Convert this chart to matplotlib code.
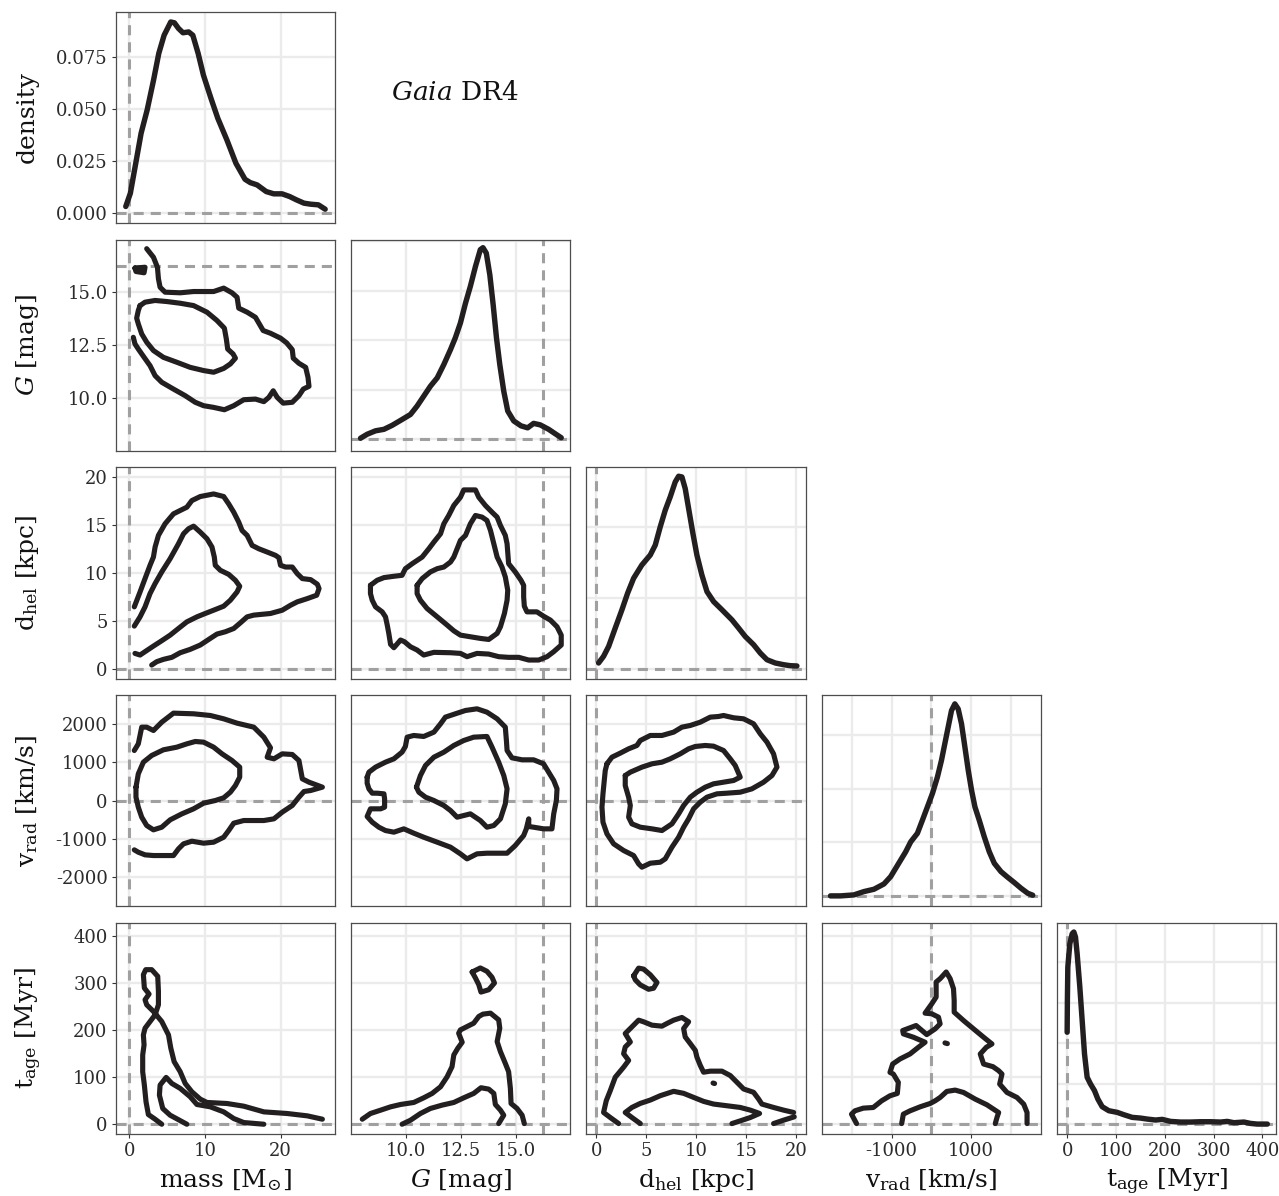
import matplotlib
matplotlib.use('Agg')
import matplotlib.pyplot as plt

plt.rcParams['font.family'] = ['DejaVu Serif', 'DejaVu Sans']
plt.rcParams['mathtext.fontset'] = 'dejavuserif'
plt.rcParams['axes.unicode_minus'] = False

# ---------------- data ----------------
# axis limits
mass_lim = (-1.8, 27.2)
G_lim = (7.52, 17.44)
d_lim = (-1.0, 20.97)
v_lim = (-2760, 2750)
t_lim = (-21, 428.5)

# ticks / grid
mass_ticks = [0, 10, 20]
mass_ticklabels = ['0', '10', '20']
G_ticks = [10.0, 12.5, 15.0]
G_ticklabels = ['10.0', '12.5', '15.0']
d_ticks = [0, 5, 10, 15, 20]
d_ticklabels = ['0', '5', '10', '15', '20']
v_ticks = [-2000, -1000, 0, 1000, 2000]
v_ticklabels = ['-2000', '-1000', '0', '1000', '2000']
v_xticks = [-1000, 1000]
v_xticklabels = ['-1000', '1000']
t_ticks = [0, 100, 200, 300, 400]
t_ticklabels = ['0', '100', '200', '300', '400']

# true values (dashed lines)
mass_true = 0.0
G_true = 16.2
d_true = 0.0
v_true = 0.0
t_true = 0.0

# density panel scales
mass_dens_lim = (-0.0048, 0.0970)
mass_dens_ticks = [0.0, 0.025, 0.050, 0.075]
mass_dens_ticklabels = ['0.000', '0.025', '0.050', '0.075']
G_dens_lim = (-0.0235, 0.4034)
G_dens_grid = [0.0, 0.1, 0.2, 0.3, 0.4]
d_dens_lim = (-0.0070, 0.1419)
d_dens_grid = [0.0, 0.05, 0.10]
v_dens_lim = (-0.0000391, 0.000751)
v_dens_grid = [0.0, 0.0002, 0.0004, 0.0006]
t_dens_lim = (-0.00124, 0.0249)
t_dens_grid = [0.0, 0.005, 0.010, 0.015, 0.020]

# 1D densities
mass_dens_x = [-0.47, 0.14, 0.85, 1.56, 2.36, 3.2, 3.9, 4.6, 5.48, 5.96, 6.5, 7.1, 7.85, 8.4,
               9.1, 9.8, 10.8, 11.7, 12.9, 14.1, 15.3, 16.0, 16.9, 18.1, 19.1, 20.2, 21.2,
               22.1, 23.1, 24.0, 25.0, 25.9]
mass_dens_y = [0.0032, 0.0096, 0.024, 0.0385, 0.0497, 0.064, 0.077, 0.0857, 0.0921, 0.0917,
               0.089, 0.0869, 0.0873, 0.0857, 0.077, 0.0665, 0.0553, 0.0457, 0.0353, 0.024,
               0.0163, 0.0147, 0.0136, 0.0104, 0.0093, 0.0093, 0.008, 0.0064, 0.0048, 0.0043,
               0.004, 0.0019]

G_dens_x = [7.95, 8.25, 8.63, 9.01, 9.38, 9.76, 10.21, 10.51, 10.81, 11.11, 11.42, 11.72, 12.02,
            12.24, 12.47, 12.70, 12.92, 13.15, 13.37, 13.49, 13.64, 13.80, 13.95, 14.10, 14.25,
            14.43, 14.61, 14.88, 15.21, 15.51, 15.78, 16.08, 16.46, 16.76, 17.03]
G_dens_y = [0.002, 0.010, 0.017, 0.020, 0.028, 0.038, 0.050, 0.067, 0.087, 0.107, 0.124, 0.151,
            0.181, 0.205, 0.235, 0.275, 0.309, 0.349, 0.383, 0.387, 0.376, 0.332, 0.272, 0.205,
            0.151, 0.097, 0.057, 0.037, 0.027, 0.023, 0.032, 0.029, 0.020, 0.011, 0.003]

d_dens_x = [0.23, 0.73, 1.24, 1.90, 2.57, 3.14, 3.74, 4.57, 5.41, 5.91, 6.41, 6.91, 7.41, 7.91,
            8.25, 8.58, 8.91, 9.25, 9.68, 10.08, 10.58, 11.09, 11.75, 12.59, 13.59, 14.26,
            14.92, 15.76, 16.43, 17.10, 17.93, 18.76, 19.43, 20.10]
d_dens_y = [0.0040, 0.0087, 0.0157, 0.0286, 0.0415, 0.0532, 0.0637, 0.0731, 0.0801, 0.0871,
            0.1000, 0.1117, 0.1211, 0.1316, 0.1356, 0.1351, 0.1269, 0.1129, 0.0953, 0.0801,
            0.0660, 0.0543, 0.0473, 0.0415, 0.0344, 0.0286, 0.0227, 0.0169, 0.0110, 0.0063,
            0.0040, 0.0028, 0.0021, 0.0019]

v_dens_x = [-2537, -2285, -1949, -1697, -1445, -1193, -1025, -899, -773, -647, -521, -353, -227,
            -101, 25, 151, 252, 336, 420, 504, 588, 672, 756, 840, 924, 1008, 1092, 1201, 1327,
            1453, 1579, 1747, 1915, 2083, 2251, 2419, 2545]
v_dens_y = [0.0, 0.0, 0.0000037, 0.0000161, 0.0000248, 0.0000447, 0.0000720, 0.000103, 0.000134,
            0.000165, 0.000202, 0.000234, 0.000283, 0.000333, 0.000383, 0.000445, 0.000507,
            0.000569, 0.000631, 0.000693, 0.000718, 0.000699, 0.000643, 0.000557, 0.000470,
            0.000395, 0.000333, 0.000283, 0.000221, 0.000165, 0.000122, 0.0000907, 0.0000696,
            0.0000497, 0.0000286, 0.0000099, 0.0000025]

t_dens_x = [0.0, 0.5, 1.4, 5.5, 10.3, 13.7, 17.1, 20.5, 26.0, 30.8, 35.6, 41.0, 47.9, 56.1, 62.9,
            71.8, 85.5, 102.6, 116.2, 133.3, 150.4, 164.1, 181.2, 194.9, 212.0, 232.5, 253.0,
            273.5, 294.0, 314.5, 328.2, 341.9, 362.4, 376.1, 389.7, 410.3]
t_dens_y = [0.01136, 0.01529, 0.01942, 0.02231, 0.02355, 0.02376, 0.02314, 0.02107, 0.01694,
            0.01281, 0.00868, 0.00579, 0.00496, 0.00413, 0.00310, 0.00215, 0.00165, 0.00145,
            0.00116, 0.00083, 0.00074, 0.00062, 0.00050, 0.00058, 0.00033, 0.00025, 0.00025,
            0.00029, 0.00029, 0.00025, 0.00033, 0.00017, 0.00025, 0.00008, 0.0, 0.0]

# 2D contours (x, y) in data units
mass_G_outer = [(2.30, 17.01), (3.19, 16.61), (3.72, 16.14), (3.85, 15.60), (4.07, 15.20),
                (4.73, 14.97), (6.73, 14.94), (8.50, 15.0), (11.15, 15.0), (12.48, 15.16),
                (13.58, 14.94), (14.25, 14.73), (14.47, 14.22), (15.58, 14.03), (16.68, 13.79),
                (17.70, 13.17), (18.67, 13.04), (20.0, 12.81), (20.80, 12.59), (21.55, 12.27),
                (21.68, 11.87), (22.43, 11.63), (23.32, 11.44), (23.63, 10.97), (23.76, 10.55),
                (23.01, 10.42), (22.43, 10.11), (21.55, 9.80), (20.35, 9.76), (19.56, 10.03),
                (19.03, 10.34), (18.45, 10.03), (17.79, 9.83), (16.68, 9.95), (15.13, 9.92),
                (13.81, 9.64), (12.57, 9.45), (11.15, 9.56), (9.82, 9.64), (8.72, 9.80),
                (7.39, 10.11), (5.84, 10.42), (4.29, 10.74), (3.41, 11.05), (2.74, 11.52),
                (1.86, 11.96), (1.19, 12.30), (0.75, 12.54), (0.53, 12.85)]
mass_G_inner = [(1.42, 14.34), (2.08, 14.50), (3.41, 14.58), (4.96, 14.53), (6.73, 14.45),
                (8.50, 14.34), (10.27, 14.03), (11.59, 13.64), (12.57, 13.28), (12.83, 12.77),
                (13.01, 12.30), (13.72, 12.07), (14.03, 11.87), (13.36, 11.60), (12.48, 11.39),
                (11.15, 11.21), (9.82, 11.29), (8.05, 11.44), (6.28, 11.68), (4.51, 11.91),
                (3.19, 12.23), (2.30, 12.62), (1.64, 13.01), (1.19, 13.48), (0.97, 13.75),
                (1.19, 14.11)]
mass_G_blob = [(0.75, 16.10), (2.08, 16.14), (1.95, 15.88), (0.88, 15.94)]

mass_d_outer = [(0.66, 6.46), (1.42, 8.01), (2.08, 9.40), (2.74, 10.78), (3.19, 11.64),
                (3.41, 12.68), (3.85, 13.89), (4.73, 15.10), (5.84, 16.13), (6.73, 16.48),
                (7.61, 16.82), (8.27, 17.51), (9.38, 17.93), (11.15, 18.20), (12.48, 17.93),
                (13.14, 17.17), (13.81, 16.30), (14.47, 15.27), (14.91, 14.40), (15.58, 13.89),
                (16.24, 12.85), (17.12, 12.50), (18.23, 12.16), (19.34, 11.81), (19.78, 11.57),
                (20.0, 10.78), (20.66, 10.60), (21.55, 10.60), (22.21, 9.91), (22.88, 9.40),
                (23.98, 9.29), (24.87, 8.81), (25.09, 8.36), (24.78, 7.67), (23.54, 7.32),
                (22.21, 6.98), (21.33, 6.63), (20.22, 6.11), (18.67, 5.77), (16.46, 5.60),
                (15.58, 5.42), (14.69, 4.80), (13.81, 4.21), (12.70, 3.87), (11.59, 3.63),
                (10.71, 3.18), (9.38, 2.49), (8.05, 2.04), (6.73, 1.69), (5.62, 1.21),
                (4.51, 1.00), (3.63, 0.76), (2.96, 0.41)]
mass_d_inner = [(0.66, 4.46), (1.42, 5.42), (2.08, 6.46), (2.74, 7.84), (3.41, 8.88),
                (4.29, 10.09), (5.40, 11.47), (6.50, 13.02), (7.17, 14.06), (7.83, 14.58),
                (8.50, 14.85), (9.38, 14.23), (10.27, 13.54), (10.93, 12.68), (11.24, 11.64),
                (11.37, 10.78), (12.04, 10.26), (13.14, 9.84), (14.03, 9.22), (14.60, 8.60),
                (14.25, 8.01), (13.36, 7.15), (12.48, 6.53), (11.37, 6.18), (10.04, 5.77),
                (8.94, 5.42), (7.61, 4.90), (6.50, 4.21), (5.40, 3.52), (4.29, 2.94),
                (3.19, 2.38), (2.08, 1.80), (1.42, 1.45), (0.75, 1.62)]

G_d_outer = [(8.40, 8.70), (8.70, 9.22), (9.01, 9.50), (9.46, 9.64), (9.83, 9.74), (9.98, 10.43),
             (10.29, 10.95), (10.74, 11.64), (11.04, 12.50), (11.27, 13.20), (11.57, 14.06),
             (11.72, 15.10), (11.94, 15.96), (12.17, 17.00), (12.47, 17.86), (12.62, 18.62),
             (13.15, 18.62), (13.30, 17.86), (13.60, 17.00), (13.90, 16.30), (14.13, 15.79),
             (14.28, 14.92), (14.50, 13.89), (14.58, 13.02), (14.65, 10.95), (14.95, 10.09),
             (15.21, 9.22), (15.33, 8.70), (15.33, 7.50), (15.36, 6.53), (15.48, 5.94),
             (15.93, 5.94), (16.23, 5.49), (16.54, 5.08), (16.84, 4.39), (17.03, 3.52),
             (17.03, 2.49), (16.69, 1.80), (16.39, 1.28), (16.01, 0.93), (15.56, 0.93),
             (15.11, 1.21), (14.65, 1.21), (14.20, 1.28), (13.75, 1.55), (13.22, 1.62),
             (12.77, 1.28), (12.47, 1.62), (12.02, 1.69), (11.27, 1.73), (10.81, 1.45),
             (10.51, 1.97), (10.21, 2.31), (9.94, 2.83), (9.76, 3.01), (9.46, 2.21),
             (9.31, 2.56), (9.23, 3.70), (9.16, 4.56), (9.08, 5.42), (8.93, 5.94),
             (8.63, 6.46), (8.48, 7.15), (8.40, 7.84)]
G_d_inner = [(10.51, 8.70), (10.74, 9.40), (11.11, 10.09), (11.42, 10.43), (11.72, 10.60),
             (12.02, 11.12), (12.17, 11.64), (12.32, 12.50), (12.47, 13.37), (12.70, 13.89),
             (12.92, 15.10), (13.15, 15.96), (13.45, 15.79), (13.67, 15.44), (13.83, 14.40),
             (13.98, 13.02), (14.13, 11.64), (14.35, 10.60), (14.50, 9.57), (14.61, 8.19),
             (14.58, 7.15), (14.46, 5.77), (14.28, 4.39), (14.13, 3.70), (13.75, 3.07),
             (13.37, 3.18), (12.92, 3.35), (12.47, 3.52), (12.17, 3.97), (11.87, 4.56),
             (11.42, 5.42), (10.96, 6.29), (10.66, 7.15), (10.51, 7.84)]

mass_v_outer = [(0.66, 1304), (1.19, 1478), (1.64, 1913), (2.30, 1913), (3.19, 1826),
                (4.29, 2043), (5.84, 2278), (8.50, 2261), (10.71, 2217), (12.48, 2130),
                (14.25, 2017), (16.46, 1913), (17.79, 1652), (18.67, 1374), (18.23, 1130),
                (19.12, 1087), (20.22, 1217), (21.55, 1200), (22.43, 1043), (22.88, 565),
                (23.76, 478), (25.53, 348), (23.98, 261), (23.10, 235), (22.43, 87),
                (21.55, -130), (20.22, -304), (19.12, -478), (17.79, -522), (15.13, -522),
                (13.81, -591), (13.14, -783), (12.48, -957), (11.15, -1087), (9.82, -1113),
                (8.27, -1061), (7.17, -1130), (6.50, -1261), (5.84, -1435), (4.51, -1435),
                (3.19, -1435), (2.08, -1417), (1.19, -1348), (0.66, -1287)]
mass_v_inner = [(0.88, 348), (1.19, 696), (1.86, 1000), (2.96, 1174), (4.51, 1322),
                (6.28, 1391), (7.61, 1478), (8.72, 1539), (9.82, 1522), (11.15, 1391),
                (12.26, 1217), (13.58, 1043), (14.60, 870), (14.60, 609), (14.03, 391),
                (13.36, 217), (12.48, 70), (11.37, 0), (9.82, -70), (8.50, -217), (6.95, -348),
                (5.40, -504), (4.29, -696), (3.19, -765), (2.30, -652), (1.64, -435),
                (1.19, -174), (0.88, 87)]

G_v_outer = [(8.25, 609), (8.33, 739), (8.63, 870), (9.08, 1000), (9.46, 1087), (9.83, 1261),
             (9.98, 1409), (10.06, 1652), (10.36, 1696), (10.81, 1670), (11.27, 1783),
             (11.57, 2000), (11.79, 2174), (12.24, 2261), (12.70, 2348), (13.22, 2391),
             (13.67, 2304), (14.13, 2130), (14.50, 1913), (14.55, 1565), (14.58, 1304),
             (14.80, 1113), (15.26, 1061), (15.78, 1061), (16.23, 957), (16.46, 739),
             (16.69, 522), (16.84, 304), (16.81, 0), (16.69, -348), (16.61, -739),
             (16.23, -739), (15.78, -696), (15.56, -678), (15.56, -478), (15.45, -739),
             (15.33, -913), (14.95, -1174), (14.58, -1374), (14.13, -1374), (13.67, -1374),
             (13.22, -1391), (12.77, -1522), (12.47, -1391), (12.02, -1217), (11.42, -1087),
             (10.81, -957), (10.36, -852), (9.91, -739), (9.46, -826), (9.08, -783),
             (8.78, -696), (8.48, -565), (8.25, -417), (8.40, -217), (8.86, -217),
             (9.04, -174), (9.04, 43), (9.01, 174), (8.70, 191), (8.48, 191), (8.33, 304),
             (8.25, 452)]
G_v_inner = [(10.48, 348), (10.66, 652), (10.89, 913), (11.27, 1130), (11.72, 1261),
             (12.17, 1435), (12.62, 1565), (13.07, 1652), (13.67, 1670), (13.90, 1391),
             (14.20, 1000), (14.43, 652), (14.58, 304), (14.50, -87), (14.28, -478),
             (13.98, -652), (13.67, -696), (13.37, -522), (12.92, -348), (12.32, -435),
             (12.02, -261), (11.72, -130), (11.27, 0), (10.89, 87), (10.59, 217)]

d_v_outer = [(1.07, 957), (1.57, 1130), (2.40, 1235), (3.24, 1348), (4.07, 1435), (4.41, 1565),
             (5.41, 1696), (6.58, 1696), (7.75, 1783), (8.58, 1913), (9.42, 1957),
             (10.42, 2043), (11.42, 2174), (12.25, 2191), (12.75, 2217), (13.76, 2157),
             (14.76, 2130), (15.76, 2000), (16.43, 1739), (17.10, 1522), (17.76, 1217),
             (18.10, 870), (17.60, 652), (16.76, 478), (15.59, 304), (14.42, 217),
             (13.09, 191), (12.09, 174), (11.09, 87), (10.42, -43), (9.75, -217),
             (9.25, -478), (8.75, -696), (8.25, -957), (7.58, -1217), (6.91, -1522),
             (6.41, -1609), (5.41, -1635), (4.57, -1739), (4.24, -1652), (3.74, -1435),
             (2.74, -1304), (1.74, -1130), (1.07, -870), (0.67, -565), (0.57, -174),
             (0.67, 174), (0.80, 522), (0.90, 783)]
d_v_inner = [(2.90, 652), (3.41, 739), (4.57, 870), (5.58, 957), (6.58, 1000), (7.41, 1087),
             (8.41, 1217), (9.25, 1348), (9.92, 1409), (10.92, 1435), (11.75, 1417),
             (12.75, 1304), (13.42, 1087), (13.92, 913), (14.42, 609), (13.76, 522),
             (12.75, 478), (11.75, 435), (10.92, 348), (10.08, 217), (9.42, 87), (8.75, -130),
             (8.25, -348), (7.58, -609), (6.58, -783), (5.58, -739), (4.41, -696),
             (3.57, -609), (3.24, -435), (3.41, -130), (3.24, 87), (2.90, 391)]

mass_t_outer = [(4.29, 0), (3.41, 10.7), (2.52, 20.6), (2.21, 47.7), (1.99, 83.3), (1.77, 111.7),
                (1.77, 147.3), (1.95, 168.7), (1.86, 190.0), (2.08, 204.3), (3.41, 232.7),
                (3.85, 254.1), (3.85, 282.6), (3.76, 314.6), (2.96, 328.8), (2.17, 328.8),
                (1.86, 318.1), (1.99, 289.7), (2.61, 276.9), (2.08, 264.8), (2.30, 254.1),
                (3.19, 239.9), (4.29, 218.5), (5.18, 190.0), (5.49, 161.6), (5.93, 133.1),
                (6.73, 111.7), (7.39, 86.8), (8.27, 69.0), (9.38, 53.4), (10.27, 46.3),
                (12.92, 44.1), (15.13, 38.4), (17.79, 26.3), (20.88, 22.8), (23.54, 17.8),
                (25.53, 10.7)]
mass_t_inner = [(7.61, 0), (5.40, 19.2), (4.42, 33.5), (3.98, 61.9), (4.07, 83.3), (4.87, 99.6),
                (5.62, 86.8), (6.73, 76.2), (8.05, 58.4), (8.94, 42.0), (10.71, 37.0),
                (12.48, 26.3), (13.81, 12.1), (15.13, 3.6), (17.79, 0)]

G_t_loop = [(13.0, 323.8), (13.37, 332.4), (13.67, 325.3), (13.90, 312.5), (14.01, 300.4),
            (13.75, 286.1), (13.40, 281.1), (13.30, 296.8), (13.15, 311.0)]
G_t_outer = [(8.03, 10.7), (8.40, 22.8), (8.86, 29.9), (9.31, 37.0), (9.76, 42.0), (10.36, 46.3),
             (10.81, 56.2), (11.19, 65.5), (11.57, 79.7), (11.87, 101.1), (12.09, 122.4),
             (12.17, 147.3), (12.35, 161.6), (12.55, 174.4), (12.39, 193.6), (12.47, 200.7),
             (12.77, 207.8), (13.07, 214.9), (13.30, 229.2), (13.49, 234.2), (13.83, 236.3),
             (14.20, 222.1), (14.25, 204.3), (14.13, 175.8), (14.28, 154.4), (14.50, 129.5),
             (14.65, 111.7), (14.73, 76.2), (14.76, 44.1), (15.03, 33.5), (15.26, 19.2),
             (15.36, 1.4)]
G_t_inner = [(9.83, 0), (10.21, 8.5), (10.66, 22.8), (11.11, 33.5), (11.64, 40.6), (12.17, 46.3),
             (12.62, 56.2), (13.07, 65.5), (13.40, 77.6), (13.75, 74.7), (13.98, 65.5),
             (14.05, 42.0), (14.28, 29.9), (14.43, 19.2), (14.20, 1.4)]

d_t_loop = [(3.74, 315.7), (4.24, 332.1), (4.74, 330.0), (5.41, 317.9), (6.08, 301.4),
            (5.74, 289.3), (5.24, 287.1), (4.41, 296.4), (3.91, 307.1)]
d_t_outer = [(2.24, 1.4), (1.40, 14.3), (0.73, 25.0), (1.00, 50.0), (1.40, 71.4), (1.90, 100.0),
             (2.74, 121.4), (3.24, 135.7), (2.74, 150.0), (2.90, 164.3), (3.41, 175.0),
             (2.90, 192.9), (3.57, 207.1), (4.24, 221.4), (4.74, 217.9), (5.58, 210.7),
             (6.58, 208.6), (7.08, 214.3), (7.75, 221.4), (8.58, 227.1), (9.25, 217.9),
             (8.75, 203.6), (8.91, 185.7), (9.42, 171.4), (9.92, 157.1), (10.08, 142.9),
             (10.42, 125.0), (10.75, 110.7), (11.42, 112.9), (12.59, 112.9), (13.42, 103.6),
             (14.09, 89.3), (14.76, 75.0), (15.76, 67.9), (16.26, 53.6), (16.59, 42.9),
             (17.76, 35.7), (18.76, 30.0), (19.77, 25.0)]
d_t_inner = [(4.41, 1.4), (3.57, 14.3), (2.90, 25.0), (3.57, 35.7), (4.41, 44.3), (5.41, 51.4),
             (6.41, 60.7), (7.75, 70.0), (8.75, 65.7), (9.75, 57.1), (10.75, 48.6),
             (11.75, 42.9), (13.09, 39.3), (14.42, 35.7), (15.43, 30.0), (16.36, 22.9),
             (15.43, 14.3), (14.42, 7.1), (13.59, 1.4)]
d_t_seg = [(17.76, 1.4), (18.76, 8.6), (19.83, 15.7)]
d_t_dot = [(11.70, 87.6), (11.85, 86.6)]

v_t_outer = [(-1882, 1.4), (-2008, 21.4), (-1924, 28.5), (-1714, 34.2), (-1462, 35.6),
             (-1252, 49.8), (-1042, 60.5), (-857, 65.5), (-832, 89.0), (-958, 106.8),
             (-1042, 110.3), (-974, 128.1), (-790, 138.8), (-538, 149.5), (-328, 163.7),
             (-160, 174.4), (-454, 185.1), (-706, 192.2), (-722, 199.3), (-386, 210.0),
             (-118, 190.7), (92, 202.8), (218, 213.5), (176, 227.8), (8, 234.9), (-160, 236.3),
             (8, 256.2), (118, 270.5), (118, 302.5), (218, 309.6), (370, 323.8), (470, 309.6),
             (554, 288.3), (571, 263.3), (571, 238.4), (806, 220.6), (1058, 202.8),
             (1310, 185.1), (1520, 170.8), (1378, 163.7), (1226, 149.5), (1310, 128.1),
             (1546, 122.4), (1688, 113.9), (1772, 106.8), (1714, 85.4), (1898, 67.6),
             (2150, 56.9), (2318, 42.7), (2402, 24.9), (2402, 1.4)]
v_t_inner = [(-748, 1.4), (-706, 21.4), (-538, 28.5), (-286, 37.0), (-34, 44.1), (92, 49.8),
             (218, 56.9), (386, 69.8), (596, 72.6), (806, 67.6), (1100, 53.4), (1394, 41.3),
             (1688, 24.9), (1646, 14.2), (1604, 1.4)]
v_t_dot = [(340, 173.0), (400, 171.5)]

# ---------------- figure ----------------
W, H = 1279, 1196
fig = plt.figure(figsize=(W / 100, H / 100), dpi=100)
fig.patch.set_facecolor('white')

LEFT0, XPITCH, PW = 115.7, 235.3, 219.3
TOP0, YPITCH, PH = 11.8, 227.75, 211.3

LINE_C = '#231f20'
DASH_C = '#a0a0a0'
GRID_C = '#ebebeb'
DASH = (0, (3.3, 2.3))

lims = [mass_lim, G_lim, d_lim, v_lim, t_lim]
ticks = [mass_ticks, G_ticks, d_ticks, v_ticks, t_ticks]
ticklabels = [mass_ticklabels, G_ticklabels, d_ticklabels, v_ticklabels, t_ticklabels]
truth = [mass_true, G_true, d_true, v_true, t_true]

diag = {
    0: (mass_dens_x, mass_dens_y, mass_dens_lim, mass_dens_ticks),
    1: (G_dens_x, G_dens_y, G_dens_lim, G_dens_grid),
    2: (d_dens_x, d_dens_y, d_dens_lim, d_dens_grid),
    3: (v_dens_x, v_dens_y, v_dens_lim, v_dens_grid),
    4: (t_dens_x, t_dens_y, t_dens_lim, t_dens_grid),
}

contours = {
    (1, 0): [(mass_G_outer, False), (mass_G_inner, True), (mass_G_blob, True)],
    (2, 0): [(mass_d_outer, False), (mass_d_inner, False)],
    (2, 1): [(G_d_outer, True), (G_d_inner, True)],
    (3, 0): [(mass_v_outer, False), (mass_v_inner, True)],
    (3, 1): [(G_v_outer, True), (G_v_inner, True)],
    (3, 2): [(d_v_outer, True), (d_v_inner, True)],
    (4, 0): [(mass_t_outer, False), (mass_t_inner, False)],
    (4, 1): [(G_t_loop, True), (G_t_outer, False), (G_t_inner, False)],
    (4, 2): [(d_t_loop, True), (d_t_outer, False), (d_t_inner, False), (d_t_seg, False),
             (d_t_dot, False)],
    (4, 3): [(v_t_outer, False), (v_t_inner, False), (v_t_dot, False)],
}

xlabels = ['mass [M$_{⊙}$]', r'$G$ [mag]', r'd$_\mathrm{hel}$ [kpc]',
           r'v$_\mathrm{rad}$ [km/s]', r't$_\mathrm{age}$ [Myr]']
ylabels = ['density', r'$G$ [mag]', r'd$_\mathrm{hel}$ [kpc]',
           r'v$_\mathrm{rad}$ [km/s]', r't$_\mathrm{age}$ [Myr]']

TICK_KW = dict(length=3.0, width=0.8, color='#333333', labelsize=13,
               labelcolor='#2b2b2b', pad=2.8)


def make_ax(r, c):
    l = LEFT0 + c * XPITCH
    t = TOP0 + r * YPITCH
    return fig.add_axes([l / W, 1 - (t + PH) / H, PW / W, PH / H])


for r in range(5):
    for c in range(r + 1):
        ax = make_ax(r, c)
        for s in ax.spines.values():
            s.set_color('#4d4d4d')
            s.set_linewidth(0.9)
        ax.set_axisbelow(True)
        ax.set_xlim(*lims[c])
        # x ticks
        if c == 3:
            ax.set_xticks(v_xticks)
            ax.set_xticklabels(v_xticklabels)
            ax.set_xticks([-2000, 0, 2000], minor=True)
        else:
            ax.set_xticks(ticks[c])
            ax.set_xticklabels(ticklabels[c])
        ax.tick_params(axis='x', which='major', bottom=(r == 4), labelbottom=(r == 4),
                       top=False, **TICK_KW)
        ax.tick_params(axis='x', which='minor', length=0, bottom=False, top=False)

        if r == c:
            xs, ys, ylim, ygrid = diag[c]
            ax.set_ylim(*ylim)
            ax.set_yticks(ygrid)
            if c == 0:
                ax.set_yticklabels(mass_dens_ticklabels)
            ax.axhline(0.0, color=DASH_C, lw=2.2, ls=DASH, zorder=2)
            ax.axvline(truth[c], color=DASH_C, lw=2.2, ls=DASH, zorder=2)
            ax.plot(xs, ys, color=LINE_C, lw=3.9, solid_capstyle='round',
                    solid_joinstyle='round', zorder=3)
        else:
            ax.set_ylim(*lims[r])
            ax.set_yticks(ticks[r])
            ax.set_yticklabels(ticklabels[r])
            ax.axhline(truth[r], color=DASH_C, lw=2.2, ls=DASH, zorder=2)
            ax.axvline(truth[c], color=DASH_C, lw=2.2, ls=DASH, zorder=2)
            for pts, closed in contours[(r, c)]:
                px = [p[0] for p in pts]
                py = [p[1] for p in pts]
                if closed:
                    px.append(px[0])
                    py.append(py[0])
                ax.plot(px, py, color=LINE_C, lw=3.7, solid_capstyle='round',
                        solid_joinstyle='round', zorder=3)
        ax.tick_params(axis='y', which='major', left=(c == 0), labelleft=(c == 0),
                       right=False, **TICK_KW)
        ax.grid(True, which='both', color=GRID_C, lw=1.7)

# axis titles
for c in range(5):
    cx = (LEFT0 + c * XPITCH + PW / 2) / W
    fig.text(cx, 1 - 1187 / H, xlabels[c], fontsize=18, ha='center', va='baseline',
             color='#111111')
for r in range(5):
    cy = 1 - (TOP0 + r * YPITCH + PH / 2) / H
    fig.text(34 / W, cy, ylabels[r], fontsize=18, ha='center', va='baseline',
             rotation=90, rotation_mode='anchor', color='#111111')

fig.text(455 / W, 1 - 93 / H, r'$\mathit{Gaia}$ DR4', fontsize=19, ha='center',
         va='center', color='#111111')

fig.savefig('out.png', dpi=100, facecolor='white')
